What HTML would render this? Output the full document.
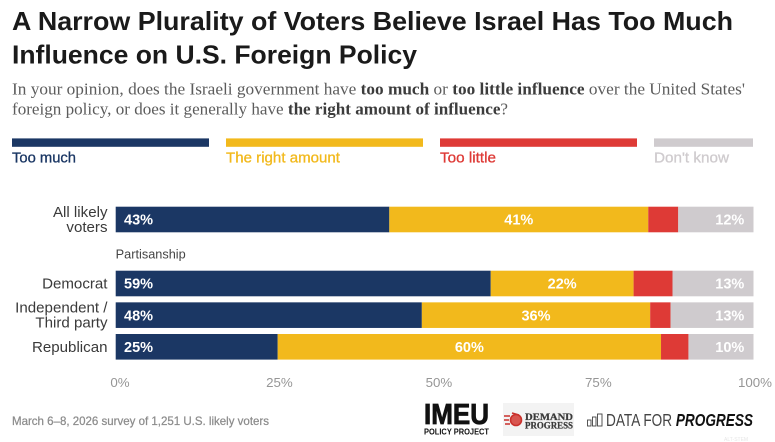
<!DOCTYPE html>
<html lang="en">
<head>
<meta charset="utf-8">
<title>Israel influence on U.S. foreign policy</title>
<style>
  html, body { margin: 0; padding: 0; background: #fff; }
  body { width: 775px; height: 442px; overflow: hidden; }
  svg { display: block; font-family: "Liberation Sans", sans-serif; }
  .serif { font-family: "Liberation Serif", serif; }
</style>
</head>
<body>
<svg id="chart" width="775" height="442" viewBox="0 0 775 442" xmlns="http://www.w3.org/2000/svg">
  <rect width="775" height="442" fill="#ffffff"/>

  <g font-size="26" font-weight="700" fill="#1a1a1a">
    <text x="12" y="30" textLength="721" lengthAdjust="spacingAndGlyphs">A Narrow Plurality of Voters Believe Israel Has Too Much</text>
    <text x="12" y="63.5" textLength="405" lengthAdjust="spacingAndGlyphs">Influence on U.S. Foreign Policy</text>
  </g>

  <g class="serif" font-size="16.5" fill="#5c5c5c">
    <text x="12" y="94.3" textLength="733" lengthAdjust="spacingAndGlyphs">In your opinion, does the Israeli government have <tspan font-weight="700" fill="#3c3c3c">too much</tspan> or <tspan font-weight="700" fill="#3c3c3c">too little influence</tspan> over the United States'</text>
    <text x="12" y="114.5" textLength="496" lengthAdjust="spacingAndGlyphs">foreign policy, or does it generally have <tspan font-weight="700" fill="#3c3c3c">the right amount of influence</tspan>?</text>
  </g>

  <g stroke-width="0.3">
    <g>
      <rect x="12" y="138.4" width="197" height="8.4" fill="#1b3764"/>
      <text x="12" y="162.5" font-size="14.5" fill="#1b3764" stroke="#1b3764" textLength="64" lengthAdjust="spacingAndGlyphs">Too much</text>
    </g>
    <g>
      <rect x="226" y="138.4" width="197" height="8.4" fill="#f2b91c"/>
      <text x="226" y="162.5" font-size="14.5" fill="#f2b91c" stroke="#f2b91c" textLength="114" lengthAdjust="spacingAndGlyphs">The right amount</text>
    </g>
    <g>
      <rect x="440" y="138.4" width="197" height="8.4" fill="#de3a36"/>
      <text x="440" y="162.5" font-size="14.5" fill="#de3a36" stroke="#de3a36" textLength="56" lengthAdjust="spacingAndGlyphs">Too little</text>
    </g>
    <g>
      <rect x="654" y="138.4" width="99" height="8.4" fill="#cfcbce"/>
      <text x="654" y="162.5" font-size="14.5" fill="#cfcbce" stroke="#cfcbce" textLength="75" lengthAdjust="spacingAndGlyphs">Don't know</text>
    </g>
  </g>

  <text x="115.7" y="258.5" font-size="12.5" fill="#444444" textLength="70" lengthAdjust="spacingAndGlyphs">Partisanship</text>

  <g id="rows"></g>
  <g id="x-axis"></g>

  <text x="12" y="425" font-size="12" fill="#8c8c8c" stroke="#8c8c8c" stroke-width="0.25" textLength="257" lengthAdjust="spacingAndGlyphs">March 6–8, 2026 survey of 1,251 U.S. likely voters</text>

  <g fill="#111111" font-weight="700">
    <text x="424" y="424" font-size="29" stroke="#111111" stroke-width="0.8" textLength="65" lengthAdjust="spacingAndGlyphs">IMEU</text>
    <text x="424" y="434.5" font-size="8.5" textLength="65" lengthAdjust="spacingAndGlyphs">POLICY PROJECT</text>
  </g>

  <g>
    <rect x="503" y="403" width="71" height="33" fill="#f3f3f3"/>
    <g fill="none" stroke="#c9312c" stroke-width="1.6">
      <circle cx="516" cy="420" r="5.5" fill="#d8554f"/>
      <path d="M504 416h6M504 420h5M505 424h5M512 413l7 2"/>
    </g>
    <g class="serif" font-weight="700" font-size="9.5" fill="#3a3a3a" stroke="#3a3a3a" stroke-width="0.25">
      <text x="525" y="420" textLength="48" lengthAdjust="spacingAndGlyphs">DEMAND</text>
      <text x="525" y="428.5" textLength="48" lengthAdjust="spacingAndGlyphs">PROGRESS</text>
    </g>
  </g>

  <g>
    <g fill="none" stroke="#444444" stroke-width="0.9">
      <rect x="587.5" y="420" width="3.5" height="6"/>
      <rect x="592.5" y="417" width="3.5" height="9"/>
      <rect x="597.5" y="414" width="4.5" height="12"/>
    </g>
    <text x="606" y="426" font-size="17.5" fill="#444444" textLength="147" lengthAdjust="spacingAndGlyphs">DATA FOR <tspan font-weight="700" font-style="italic" fill="#111111">PROGRESS</tspan></text>
  </g>

  <text x="724" y="441" font-size="5" fill="#e6e6e6">ALT-STEM</text>
</svg>

<script>
// Chart data
const categories = [["All likely", "voters"], ["Democrat"], ["Independent /", "Third party"], ["Republican"]];
const seriesNames = ["too-much", "right-amount", "too-little", "dont-know"];
const tooMuch = [42.9, 58.8, 48.0, 25.4];
const rightAmount = [40.6, 22.4, 35.8, 60.1];
const tooLittle = [4.7, 6.1, 3.2, 4.3];
const dontKnow = [11.8, 12.7, 13.0, 10.2];
const tickValues = [0, 25, 50, 75, 100];
const tickLabels = ["0%", "25%", "50%", "75%", "100%"];

const NS = "http://www.w3.org/2000/svg";
const colors = ["#1b3764", "#f2b91c", "#de3a36", "#cfcbce"];

function xScale(v) { return 115.7 + v * 6.378; }
function rowTop(i) { return i === 0 ? 206.7 : 270.7 + (i - 1) * 31.65; }
const barHeight = 25.6;

const rowsGroup = document.getElementById("rows");
const axisGroup = document.getElementById("x-axis");
const allSeries = [tooMuch, rightAmount, tooLittle, dontKnow];

function svgEl(tag, attrs, text) {
  const el = document.createElementNS(NS, tag);
  for (const k in attrs) el.setAttribute(k, attrs[k]);
  if (text !== undefined) el.textContent = text;
  return el;
}

categories.forEach(function (lines, i) {
  const top = rowTop(i);
  const center = top + barHeight / 2;
  const row = svgEl("g", {});
  
  
  rowsGroup.appendChild(row);

  const startY = center + 5 - (lines.length - 1) * 7.5;
  lines.forEach(function (line, j) {
    const label = svgEl("text", {
      x: 107.5, y: startY + j * 15, "text-anchor": "end",
      "font-size": 15.1, fill: "#3a3a3a"
    }, line);
    
    
    row.appendChild(label);
  });

  let cum = 0;
  allSeries.forEach(function (values, s) {
    const v = values[i];
    const x0 = xScale(cum);
    const x1 = xScale(cum + v);
    const bar = svgEl("rect", {
      x: x0, y: top, width: x1 - x0, height: barHeight, fill: colors[s]
    });
    
    
    row.appendChild(bar);

    if (s !== 2) {
      let tx = (x0 + x1) / 2;
      let anchor = "middle";
      if (s === 0) { tx = x0 + 8.3; anchor = "start"; }
      if (s === 3) { tx = x1 - 9.2; anchor = "end"; }
      const valueLabel = svgEl("text", {
        x: tx, y: center + 5.2, "text-anchor": anchor,
        "font-size": 14.5, "font-weight": 700, fill: "#ffffff"
      }, Math.round(v) + "%");
      
      
      row.appendChild(valueLabel);
    }
    cum += v;
  });
});

tickValues.forEach(function (t, i) {
  const tick = svgEl("text", {
    x: Math.min(xScale(t) + 4.3, 755), y: 386.8, "text-anchor": "middle",
    "font-size": 13.3, fill: "#969696"
  }, tickLabels[i]);
  
  
  axisGroup.appendChild(tick);
});
</script>
</body>
</html>
